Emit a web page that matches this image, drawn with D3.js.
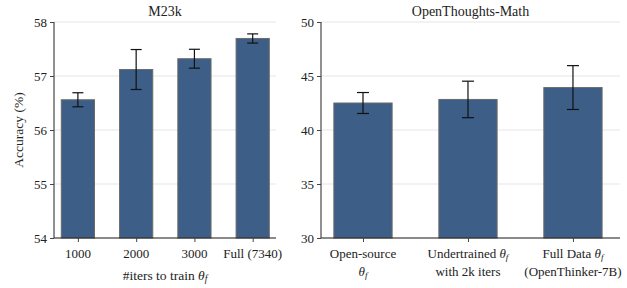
<!DOCTYPE html>
<html><head><meta charset="utf-8">
<script src="https://cdn.jsdelivr.net/npm/d3@7"></script>
<style>body{margin:0;background:#fff}svg{font-family:"Liberation Serif","Times New Roman",serif}</style>
</head><body><svg id="c" width="627" height="288"></svg>
<script>
const leftCategories = ["1000","2000","3000","Full (7340)"];
const leftValues = [56.56, 57.12, 57.32, 57.695];
const leftErrors = [0.13, 0.37, 0.175, 0.085];
const leftTicks = [54,55,56,57,58];

const rightCategories = [["Open-source","θf"],["Undertrained θf","with 2k iters"],["Full Data θf","(OpenThinker-7B)"]];
const rightValues = [42.5, 42.83, 43.93];
const rightErrors = [0.97, 1.69, 2.03];
const rightTicks = [30,35,40,45,50];

const svg = d3.select("#c");
const fill = "#3d5f87", stroke = "#6b6b6b";

function writeLabel(sel, text){
  const idx = text.indexOf("θf");
  if(idx<0){ sel.text(text); return; }
  if(idx>0) sel.append("tspan").text(text.slice(0,idx));
  sel.append("tspan").attr("font-style","italic").text("θ");
  sel.append("tspan").attr("font-style","italic").attr("font-size","0.7em").attr("dy","0.25em").text("f");
  const rest = text.slice(idx+2);
  if(rest) sel.append("tspan").attr("dy","-0.25em").text(rest);
}

function panel(cfg){
  const g = svg.append("g");
  const x = d3.scaleLinear().domain(cfg.xdom).range([cfg.x0, cfg.x1]);
  const y = d3.scaleLinear().domain(cfg.ydom).range([238, 22]);
  g.selectAll("line.grid").data(cfg.ticks).join("line")
    .attr("x1", cfg.x0).attr("x2", cfg.x1)
    .attr("y1", d=>y(d)).attr("y2", d=>y(d))
    .attr("stroke", "#e6e6e6").attr("stroke-width", 1.2);
  const bw = (x(1)-x(0))*cfg.bw;
  g.selectAll("rect").data(cfg.values).join("rect")
    .attr("x",(d,i)=>x(i)-bw/2).attr("width",bw)
    .attr("y",d=>y(d)).attr("height",d=>y(cfg.ydom[0])-y(d))
    .attr("fill",fill).attr("stroke",stroke).attr("stroke-width",1);
  const cap = cfg.cap;
  cfg.values.forEach((v,i)=>{
    const e = cfg.errors[i], cx = x(i);
    g.append("line").attr("x1",cx).attr("x2",cx).attr("y1",y(v+e)).attr("y2",y(v-e)).attr("stroke","#111").attr("stroke-width",1.2);
    [v+e, v-e].forEach(t=>g.append("line").attr("x1",cx-cap).attr("x2",cx+cap).attr("y1",y(t)).attr("y2",y(t)).attr("stroke","#111").attr("stroke-width",1.2));
  });
  const ya = g.append("g").attr("transform",`translate(${cfg.x0},0)`)
    .call(d3.axisLeft(y).tickValues(cfg.ticks).tickSize(4).tickPadding(3).tickFormat(d3.format("d")));
  ya.select(".domain").attr("stroke","#222").attr("d",`M0,${y(cfg.ydom[0])}V${y(cfg.ydom[1])}`);
  ya.selectAll(".tick line").attr("stroke","#444");
  ya.selectAll("text").attr("font-size","13px").attr("fill","#222").attr("font-family","Liberation Serif");
  const xa = g.append("g").attr("transform",`translate(0,238)`)
    .call(d3.axisBottom(x).tickValues(d3.range(cfg.values.length)).tickSize(4).tickFormat(""));
  xa.select(".domain").attr("stroke","#222").attr("d",`M${cfg.x0},0H${cfg.x1}`);
  xa.selectAll(".tick line").attr("stroke","#444");
  cfg.cats.forEach((c,i)=>{
    const lines = Array.isArray(c)?c:[c];
    lines.forEach((ln,j)=>{
      const t = g.append("text").attr("x",x(i)).attr("y",258+j*18).attr("text-anchor","middle")
        .attr("font-size","13px").attr("fill","#222");
      writeLabel(t, ln);
    });
  });
  g.append("text").attr("x",(cfg.x0+cfg.x1)/2).attr("y",16).attr("text-anchor","middle")
    .attr("font-size","14px").attr("fill","#222").text(cfg.title);
  return {x,y,g};
}

panel({x0:54,x1:276,xdom:[-0.41,3.4],ydom:[54,58],ticks:leftTicks,values:leftValues,errors:leftErrors,cats:leftCategories,bw:0.57,cap:5.5,title:"M23k"});
panel({x0:321,x1:620,xdom:[-0.4,2.448],ydom:[30,50],ticks:rightTicks,values:rightValues,errors:rightErrors,cats:rightCategories,bw:0.555,cap:6,title:"OpenThoughts-Math"});

svg.append("text").attr("transform","translate(23,130) rotate(-90)").attr("text-anchor","middle")
  .attr("font-size","13.5px").attr("fill","#222").text("Accuracy (%)");
const xl = svg.append("text").attr("x",165).attr("y",280).attr("text-anchor","middle")
  .attr("font-size","13.5px").attr("fill","#222");
writeLabel(xl, "#iters to train θf");
</script></body></html>
